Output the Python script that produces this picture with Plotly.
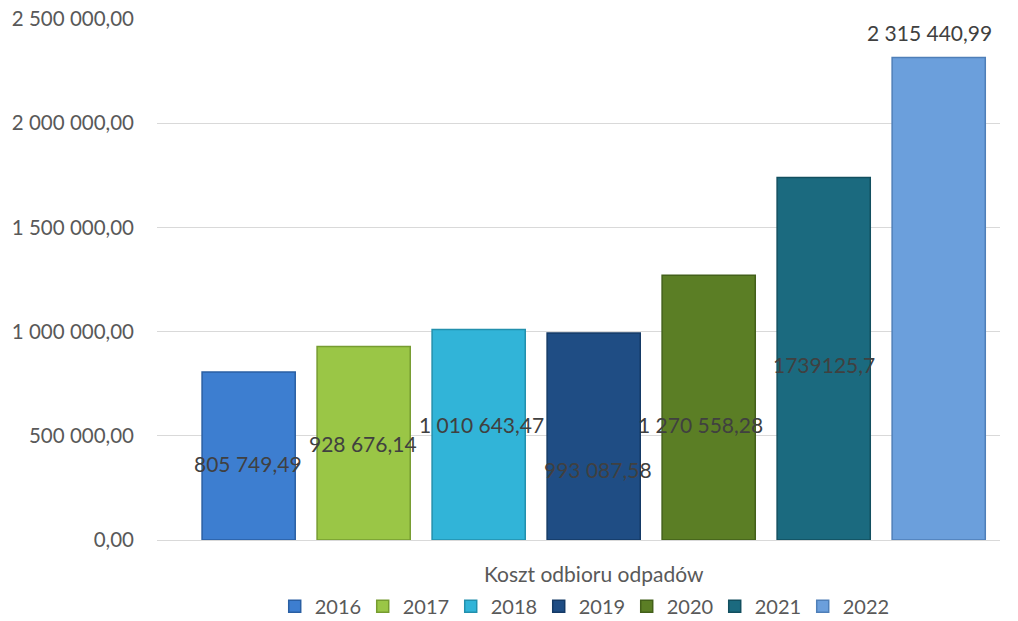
import plotly.graph_objects as go

category = "Koszt odbioru odpadów"
years = ["2016", "2017", "2018", "2019", "2020", "2021", "2022"]
values = [805749.49, 928676.14, 1010643.47, 993087.58, 1270558.28, 1739125.7, 2315440.99]
labels = ["805 749,49", "928 676,14", "1 010 643,47", "993 087,58", "1 270 558,28", "1739125,7", "2 315 440,99"]
colors = ["#3d7ed0", "#9ac646", "#31b4d8", "#1f4d84", "#5b7e25", "#1b6a7f", "#6b9fdc"]
edge = ["#2a5fa3", "#769c30", "#2290ad", "#153a66", "#43601a", "#124f5f", "#4f7fb8"]

# label placement (y in data units, x shift in px relative to group)
label_y = [369000, 465000, 552000, 336000, 552000, 840000, 2437000]
label_dx = [-1, -1, 3, 4, -8, 0, -9]

font = "Lato"
fig = go.Figure()
for i, (yr, v) in enumerate(zip(years, values)):
    fig.add_trace(go.Bar(
        x=[category], y=[v], name=yr,
        marker=dict(color=colors[i], line=dict(color=edge[i], width=1.5)),
    ))

pitch = 115
for i, t in enumerate(labels):
    fig.add_annotation(
        x=category, y=label_y[i], xref="x", yref="y", text=t, showarrow=False,
        xshift=(i - 3) * pitch + label_dx[i],
        font=dict(family=font, size=21, color="#404040"),
    )

fig.update_layout(
    width=1018, height=621,
    margin=dict(l=157, r=18, t=19, b=81, autoexpand=False),
    paper_bgcolor="white", plot_bgcolor="white",
    barmode="group", bargap=0.045, bargroupgap=0.19,
    font=dict(family=font, size=19, color="#595959"),
    legend=dict(orientation="h", x=0.505, xanchor="center", y=-0.127, yanchor="middle",
                font=dict(size=20, color="#595959"), itemwidth=30, traceorder="normal",
                entrywidth=43, entrywidthmode="pixels"),
    showlegend=True,
)
fig.update_xaxes(range=[-0.518, 0.482], showgrid=False, showline=False, ticks="",
                 ticklabelstandoff=20, tickfont=dict(size=21, color="#595959"))
fig.update_yaxes(range=[0, 2500000], showgrid=True, gridcolor="#d9d9d9",
                 gridwidth=1, zeroline=True, zerolinecolor="#d9d9d9", zerolinewidth=1,
                 tickvals=[0, 500000, 1000000, 1500000, 2000000, 2500000],
                 ticktext=["0,00", "500 000,00", "1 000 000,00", "1 500 000,00", "2 000 000,00", "2 500 000,00"],
                 ticklabelstandoff=22, ticklabeloverflow="allow", tickfont=dict(size=20.5, color="#595959"))

fig.write_html("out.html", config={"displayModeBar": False},
               post_script="document.body.style.margin='0';")
